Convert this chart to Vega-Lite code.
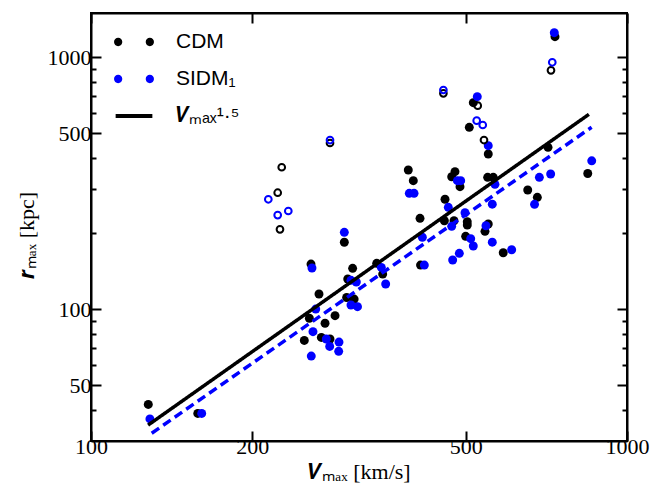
{
  "$schema": "https://vega.github.io/schema/vega-lite/v6.json",
  "width": 536,
  "height": 428,
  "autosize": "none",
  "padding": {"left": 91, "top": 13, "right": 36, "bottom": 46},
  "background": "white",
  "config": {
    "view": {"stroke": "black", "strokeWidth": 2},
    "axis": {"grid": false, "domainColor": "black", "domainWidth": 2, "tickColor": "black", "tickWidth": 2,
      "labelFont": "Liberation Serif", "labelFontSize": 22, "labelColor": "black",
      "titleFont": "Liberation Serif", "titleFontSize": 22, "titleColor": "black", "titleFontWeight": "normal",
      "labelFlush": false, "labelOverlap": false}
  },
  "datasets": {
    "pts": [
      {"V":127.9,"r":41.9,"s":"CDM","k":"f"},{"V":158.2,"r":38.6,"s":"CDM","k":"f"},{"V":296.9,"r":184.5,"s":"CDM","k":"f"},{"V":257.3,"r":151.2,"s":"CDM","k":"f"},
      {"V":307.7,"r":145.4,"s":"CDM","k":"f"},{"V":341.2,"r":152.2,"s":"CDM","k":"f"},{"V":350.1,"r":138.0,"s":"CDM","k":"f"},{"V":301.3,"r":131.9,"s":"CDM","k":"f"},
      {"V":266.3,"r":115.0,"s":"CDM","k":"f"},{"V":299.9,"r":111.4,"s":"CDM","k":"f"},{"V":309.7,"r":109.8,"s":"CDM","k":"f"},{"V":255.5,"r":92.1,"s":"CDM","k":"f"},
      {"V":285.3,"r":94.3,"s":"CDM","k":"f"},{"V":273.3,"r":88.0,"s":"CDM","k":"f"},{"V":269.0,"r":77.3,"s":"CDM","k":"f"},{"V":279.2,"r":76.2,"s":"CDM","k":"f"},
      {"V":250.0,"r":75.2,"s":"CDM","k":"f"},{"V":516.7,"r":660.7,"s":"CDM","k":"f"},{"V":507.9,"r":527.7,"s":"CDM","k":"f"},{"V":551.0,"r":413.4,"s":"CDM","k":"f"},
      {"V":390.8,"r":357.1,"s":"CDM","k":"f"},{"V":399.3,"r":323.9,"s":"CDM","k":"f"},{"V":477.6,"r":351.7,"s":"CDM","k":"f"},{"V":470.9,"r":335.9,"s":"CDM","k":"f"},
      {"V":488.0,"r":306.6,"s":"CDM","k":"f"},{"V":549.6,"r":334.1,"s":"CDM","k":"f"},{"V":563.0,"r":334.1,"s":"CDM","k":"f"},{"V":457.6,"r":273.3,"s":"CDM","k":"f"},
      {"V":411.0,"r":229.6,"s":"CDM","k":"f"},{"V":456.3,"r":224.6,"s":"CDM","k":"f"},{"V":475.6,"r":224.6,"s":"CDM","k":"f"},{"V":503.5,"r":222.6,"s":"CDM","k":"f"},
      {"V":503.5,"r":216.0,"s":"CDM","k":"f"},{"V":500.0,"r":194.8,"s":"CDM","k":"f"},{"V":551.0,"r":218.0,"s":"CDM","k":"f"},{"V":543.3,"r":203.9,"s":"CDM","k":"f"},
      {"V":587.6,"r":167.7,"s":"CDM","k":"f"},{"V":411.9,"r":149.8,"s":"CDM","k":"f"},{"V":652.8,"r":297.5,"s":"CDM","k":"f"},{"V":680.3,"r":278.3,"s":"CDM","k":"f"},
      {"V":712.3,"r":439.4,"s":"CDM","k":"f"},{"V":844.8,"r":345.9,"s":"CDM","k":"f"},{"V":733.9,"r":1207.8,"s":"CDM","k":"f"},
      {"V":128.8,"r":36.7,"s":"SIDM₁","k":"f"},{"V":160.9,"r":38.6,"s":"SIDM₁","k":"f"},{"V":296.9,"r":202.1,"s":"SIDM₁","k":"f"},{"V":258.4,"r":145.8,"s":"SIDM₁","k":"f"},
      {"V":348.0,"r":146.7,"s":"SIDM₁","k":"f"},{"V":354.6,"r":126.0,"s":"SIDM₁","k":"f"},{"V":305.5,"r":130.3,"s":"SIDM₁","k":"f"},{"V":312.6,"r":128.3,"s":"SIDM₁","k":"f"},
      {"V":305.5,"r":104.0,"s":"SIDM₁","k":"f"},{"V":314.2,"r":102.4,"s":"SIDM₁","k":"f"},{"V":262.6,"r":100.2,"s":"SIDM₁","k":"f"},{"V":259.5,"r":81.5,"s":"SIDM₁","k":"f"},
      {"V":274.8,"r":76.2,"s":"SIDM₁","k":"f"},{"V":290.2,"r":74.1,"s":"SIDM₁","k":"f"},{"V":278.8,"r":71.2,"s":"SIDM₁","k":"f"},{"V":289.8,"r":68.1,"s":"SIDM₁","k":"f"},
      {"V":257.6,"r":65.2,"s":"SIDM₁","k":"f"},{"V":525.6,"r":698.0,"s":"SIDM₁","k":"f"},{"V":551.0,"r":446.0,"s":"SIDM₁","k":"f"},{"V":482.6,"r":323.9,"s":"SIDM₁","k":"f"},
      {"V":489.5,"r":323.9,"s":"SIDM₁","k":"f"},{"V":567.1,"r":313.4,"s":"SIDM₁","k":"f"},{"V":392.5,"r":288.6,"s":"SIDM₁","k":"f"},{"V":400.6,"r":288.6,"s":"SIDM₁","k":"f"},
      {"V":464.1,"r":254.0,"s":"SIDM₁","k":"f"},{"V":560.6,"r":261.3,"s":"SIDM₁","k":"f"},{"V":498.6,"r":241.7,"s":"SIDM₁","k":"f"},{"V":470.9,"r":213.5,"s":"SIDM₁","k":"f"},
      {"V":545.6,"r":214.5,"s":"SIDM₁","k":"f"},{"V":511.0,"r":190.6,"s":"SIDM₁","k":"f"},{"V":516.7,"r":178.3,"s":"SIDM₁","k":"f"},{"V":560.6,"r":184.6,"s":"SIDM₁","k":"f"},
      {"V":415.1,"r":193.1,"s":"SIDM₁","k":"f"},{"V":486.6,"r":166.8,"s":"SIDM₁","k":"f"},{"V":472.9,"r":156.9,"s":"SIDM₁","k":"f"},{"V":609.3,"r":172.3,"s":"SIDM₁","k":"f"},
      {"V":418.7,"r":149.8,"s":"SIDM₁","k":"f"},{"V":686.3,"r":334.1,"s":"SIDM₁","k":"f"},{"V":720.4,"r":344.4,"s":"SIDM₁","k":"f"},{"V":672.2,"r":261.0,"s":"SIDM₁","k":"f"},
      {"V":859.4,"r":388.5,"s":"SIDM₁","k":"f"},{"V":731.7,"r":1252.9,"s":"SIDM₁","k":"f"},
      {"V":226.9,"r":366.2,"s":"CDM","k":"o"},{"V":223.0,"r":290.2,"s":"CDM","k":"o"},{"V":225.2,"r":207.7,"s":"CDM","k":"o"},{"V":454.4,"r":720.0,"s":"CDM","k":"o"},
      {"V":526.6,"r":642.9,"s":"CDM","k":"o"},{"V":541.0,"r":469.7,"s":"CDM","k":"o"},{"V":721.4,"r":888.4,"s":"CDM","k":"o"},{"V":279.2,"r":457.1,"s":"CDM","k":"o"},
      {"V":214.2,"r":273.3,"s":"SIDM₁","k":"o"},{"V":223.0,"r":236.6,"s":"SIDM₁","k":"o"},{"V":233.4,"r":245.5,"s":"SIDM₁","k":"o"},{"V":454.4,"r":742.1,"s":"SIDM₁","k":"o"},
      {"V":524.3,"r":560.5,"s":"SIDM₁","k":"o"},{"V":538.1,"r":538.9,"s":"SIDM₁","k":"o"},{"V":725.4,"r":955.9,"s":"SIDM₁","k":"o"},{"V":279.2,"r":469.7,"s":"SIDM₁","k":"o"}
    ],
    "lines": [
      {"V":127.8,"r":34.7,"s":"𝑽ₘₐₓ¹·⁵","d":"solid"},{"V":849,"r":594,"s":"𝑽ₘₐₓ¹·⁵","d":"solid"},
      {"V":129.8,"r":32.2,"s":"SIDM₁","d":"dashed"},{"V":859,"r":528,"s":"SIDM₁","d":"dashed"}
    ]
  },
  "layer": [
    {
      "data": {"name": "pts"},
      "transform": [{"filter": "false"}],
      "mark": {"type": "point", "filled": true, "opacity": 1},
      "encoding": {
        "x": {"field": "V", "type": "quantitative", "scale": {"type": "log", "domain": [100, 1000], "nice": false}, "axis": null},
        "y": {"field": "r", "type": "quantitative", "scale": {"type": "log", "domain": [30, 1500], "nice": false}, "axis": null},
        "color": {"field": "s", "type": "nominal",
          "scale": {"domain": ["CDM", "SIDM₁", "𝑽ₘₐₓ¹·⁵"], "range": ["black", "#0000ff", "black"]},
          "legend": {"orient": "none", "legendX": 25, "legendY": 11, "title": null, "padding": 0,
            "symbolSize": 1296, "symbolStrokeWidth": 0, "symbolOpacity": 1, "labelOffset": 24, "rowPadding": 9,
            "labelFont": "Liberation Sans", "labelFontSize": 21, "labelColor": "black"}},
        "shape": {"field": "s", "type": "nominal",
          "scale": {"domain": ["CDM", "SIDM₁", "𝑽ₘₐₓ¹·⁵"],
            "range": ["M-1.11,0a0.23,0.23 0 1,0 0.46,0a0.23,0.23 0 1,0 -0.46,0M0.65,0a0.23,0.23 0 1,0 0.46,0a0.23,0.23 0 1,0 -0.46,0",
                      "M-1.11,0a0.23,0.23 0 1,0 0.46,0a0.23,0.23 0 1,0 -0.46,0M0.65,0a0.23,0.23 0 1,0 0.46,0a0.23,0.23 0 1,0 -0.46,0",
                      "M-1.02,-0.11L1.02,-0.11L1.02,0.11L-1.02,0.11Z"]},
          "legend": {"orient": "none", "legendX": 25, "legendY": 11, "title": null, "padding": 0,
            "symbolSize": 1296, "symbolStrokeWidth": 0, "symbolOpacity": 1, "labelOffset": 24, "rowPadding": 9,
            "labelFont": "Liberation Sans", "labelFontSize": 21, "labelColor": "black"}}
      }
    },
    {
      "data": {"name": "pts"},
      "transform": [{"filter": "datum.k == 'f'"}],
      "mark": {"type": "point", "filled": true, "size": 80, "opacity": 1},
      "encoding": {
        "x": {"field": "V", "type": "quantitative", "scale": {"type": "log", "domain": [100, 1000], "nice": false},
          "axis": {"orient": "bottom", "values": [100, 200, 500, 1000], "format": "d", "tickSize": -10, "labelPadding": 5,
            "title": "𝑽ₘₐₓ [km/s]", "titleBaseline": "alphabetic", "titleY": 37}},
        "y": {"field": "r", "type": "quantitative", "scale": {"type": "log", "domain": [30, 1500], "nice": false},
          "axis": {"orient": "left", "values": [40, 50, 60, 70, 80, 90, 100, 200, 300, 400, 500, 600, 700, 800, 900, 1000],
            "labelExpr": "indexof([50,100,500,1000], datum.value) >= 0 ? format(datum.value, 'd') : ''",
            "tickSize": {"condition": {"test": "indexof([50,100,500,1000], datum.value) >= 0", "value": -10}, "value": -5},
            "labelPadding": 10, "title": "𝒓ₘₐₓ [kpc]", "titleBaseline": "alphabetic", "titleX": -58, "titleY": 222}},
        "color": {"field": "s", "type": "nominal", "legend": null}
      }
    },
    {
      "data": {"name": "pts"},
      "transform": [{"filter": "datum.k == 'o'"}],
      "mark": {"type": "point", "filled": false, "size": 45, "strokeWidth": 2, "opacity": 1},
      "encoding": {
        "x": {"field": "V", "type": "quantitative", "scale": {"type": "log", "domain": [100, 1000], "nice": false}, "axis": null},
        "y": {"field": "r", "type": "quantitative", "scale": {"type": "log", "domain": [30, 1500], "nice": false}, "axis": null},
        "color": {"field": "s", "type": "nominal", "legend": null}
      }
    },
    {
      "data": {"name": "lines"},
      "mark": {"type": "line", "strokeWidth": 3.5},
      "encoding": {
        "x": {"field": "V", "type": "quantitative", "scale": {"type": "log", "domain": [100, 1000], "nice": false},
          "axis": {"orient": "top", "values": [100, 200, 500, 1000], "tickSize": -10, "labels": false, "title": null}},
        "y": {"field": "r", "type": "quantitative", "scale": {"type": "log", "domain": [30, 1500], "nice": false},
          "axis": {"orient": "right", "values": [40, 50, 60, 70, 80, 90, 100, 200, 300, 400, 500, 600, 700, 800, 900, 1000],
            "tickSize": {"condition": {"test": "indexof([50,100,500,1000], datum.value) >= 0", "value": -10}, "value": -5},
            "labels": false, "title": null}},
        "color": {"field": "s", "type": "nominal", "legend": null},
        "strokeDash": {"field": "d", "type": "nominal", "scale": {"domain": ["solid", "dashed"], "range": [[1, 0], [9, 5]]}, "legend": null}
      }
    }
  ],
  "resolve": {"axis": {"x": "independent", "y": "independent"}}
}
